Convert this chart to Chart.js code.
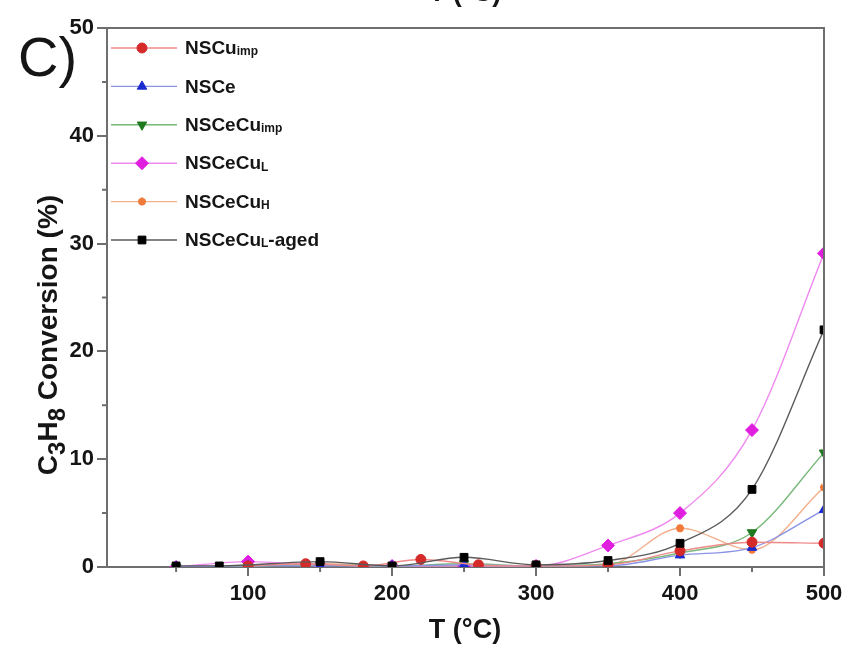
<!DOCTYPE html>
<html>
<head>
<meta charset="utf-8">
<script src="https://cdn.jsdelivr.net/npm/chart.js@4.4.1/dist/chart.umd.min.js"></script>
<style>
  html, body { margin: 0; background: #fff; }
</style>
</head>
<body>
<canvas id="c" width="852" height="664"></canvas>
<script>
// temperatures (°C)
const temps = [50, 100, 150, 200, 250, 300, 350, 400, 450, 500];
const tempsCuImp = [100, 140, 180, 220, 260, 300, 350, 400, 450, 500];
const tempsAged = [50, 80, 150, 200, 250, 300, 350, 400, 450, 500];

// C3H8 conversion (%)
const nsCuImp = [0.1, 0.3, 0.1, 0.7, 0.2, 0.1, 0.2, 1.5, 2.3, 2.2];
const nsCe = [0, 0.1, 0.1, 0.1, 0.2, 0.1, 0.1, 1.1, 1.8, 5.3];
const nsCeCuImp = [0, 0.1, 0.2, 0.1, 0.3, 0.1, 0.3, 1.3, 3.2, 10.6];
const nsCeCuL = [0, 0.5, 0.2, 0.1, 0.1, 0.1, 2.0, 5.0, 12.7, 29.1];
const nsCeCuH = [0, 0.1, 0.3, 0.1, 0.1, 0.1, 0.2, 3.6, 1.6, 7.4];
const nsCeCuLAged = [0.1, 0.1, 0.5, 0.1, 0.9, 0.2, 0.6, 2.2, 7.2, 22.0];

// legend names: [main, subscript, suffix]
const seriesNames = [
  ['NSCu', 'imp', ''],
  ['NSCe', '', ''],
  ['NSCeCu', 'imp', ''],
  ['NSCeCu', 'L', ''],
  ['NSCeCu', 'H', ''],
  ['NSCeCu', 'L', '-aged'],
];

const xTicks = [100, 200, 300, 400, 500];
const xMinorTicks = [50, 150, 250, 350, 450];
const yMinorTicks = [5, 15, 25, 35, 45];

const AXIS = '#6e6e6e';
const TEXT = '#151515';
const FONT = '"Liberation Sans", Arial, sans-serif';

const pts = (xs, ys) => xs.map((x, i) => ({ x: x, y: ys[i] }));

const makeSet = (label, data, marker, line, style, extra) => Object.assign({
  label: label,
  data: data,
  borderColor: line,
  backgroundColor: marker,
  pointBackgroundColor: marker,
  pointBorderColor: marker,
  pointStyle: style,
  pointRadius: 5,
  pointBorderWidth: 1,
  borderWidth: 1.4,
  cubicInterpolationMode: 'monotone',
  fill: false,
}, extra || {});

const datasets = [
  makeSet('NSCuimp', pts(tempsCuImp, nsCuImp), '#d42a2a', '#f08a8a', 'circle'),
  makeSet('NSCe', pts(temps, nsCe), '#1a2ad0', '#8a94e6', 'triangle', { pointRadius: 5.5 }),
  makeSet('NSCeCuimp', pts(temps, nsCeCuImp), '#1f7a1f', '#79b879', 'triangle', { pointRotation: 180, pointRadius: 5.5 }),
  makeSet('NSCeCuL', pts(temps, nsCeCuL), '#e01ee0', '#f08af0', 'rectRot', { pointRadius: 6.5 }),
  makeSet('NSCeCuH', pts(temps, nsCeCuH), '#f07a3a', '#f2b08c', 'star', { pointRadius: 4, pointBorderWidth: 2.5 }),
  makeSet('NSCeCuL-aged', pts(tempsAged, nsCeCuLAged), '#000000', '#5a5a5a', 'rect', { pointRadius: 5.5, order: -1 }),
];

const drawMarker = (ctx, ds, x, y) => {
  ctx.save();
  ctx.fillStyle = ds.pointBackgroundColor;
  ctx.strokeStyle = ds.pointBorderColor;
  ctx.lineWidth = ds.pointBorderWidth;
  Chart.helpers.drawPoint(ctx, {
    pointStyle: ds.pointStyle,
    rotation: ds.pointRotation || 0,
    radius: ds.pointRadius,
    borderWidth: ds.pointBorderWidth,
  }, x, y);
  ctx.restore();
};

// text with a smaller, lowered subscript part
const drawSubText = (ctx, parts, x, y, size, subSize, subDrop) => {
  ctx.font = 'bold ' + size + 'px ' + FONT;
  ctx.fillText(parts[0], x, y);
  x += ctx.measureText(parts[0]).width;
  if (parts[1]) {
    ctx.font = 'bold ' + subSize + 'px ' + FONT;
    ctx.fillText(parts[1], x, y + subDrop);
    x += ctx.measureText(parts[1]).width;
  }
  if (parts[2]) {
    ctx.font = 'bold ' + size + 'px ' + FONT;
    ctx.fillText(parts[2], x, y);
  }
};

const decorations = {
  id: 'decorations',
  afterDraw(chart) {
    const ctx = chart.ctx;
    const area = chart.chartArea;
    const xs = chart.scales.x;
    const ys = chart.scales.y;

    // frame top and right
    ctx.save();
    ctx.strokeStyle = AXIS;
    ctx.lineWidth = 2;
    ctx.beginPath();
    ctx.moveTo(area.left, area.top);
    ctx.lineTo(area.right, area.top);
    ctx.lineTo(area.right, area.bottom);
    ctx.stroke();

    // minor ticks
    ctx.beginPath();
    xMinorTicks.forEach((v) => {
      const px = xs.getPixelForValue(v);
      ctx.moveTo(px, area.bottom);
      ctx.lineTo(px, area.bottom + 5);
    });
    yMinorTicks.forEach((v) => {
      const py = ys.getPixelForValue(v);
      ctx.moveTo(area.left, py);
      ctx.lineTo(area.left - 5, py);
    });
    ctx.stroke();

    // legend
    ctx.fillStyle = TEXT;
    ctx.textBaseline = 'middle';
    chart.data.datasets.forEach((ds, i) => {
      const y = 48 + i * 38.4;
      ctx.strokeStyle = ds.borderColor;
      ctx.lineWidth = 1.4;
      ctx.beginPath();
      ctx.moveTo(111, y);
      ctx.lineTo(177, y);
      ctx.stroke();
      drawMarker(ctx, ds, 142, y);
      ctx.fillStyle = TEXT;
      ctx.textAlign = 'left';
      drawSubText(ctx, seriesNames[i], 185, y + 1, 19, 12, 3);
    });

    // panel label
    ctx.font = '56px ' + FONT;
    ctx.textAlign = 'left';
    ctx.textBaseline = 'alphabetic';
    ctx.fillText('C)', 18, 76);

    // axis titles
    ctx.font = 'bold 27px ' + FONT;
    ctx.textAlign = 'center';
    ctx.fillText('T (°C)', 465, 638);
    // title of the panel above, clipped at the top edge
    ctx.fillText('T (°C)', 465, 1);

    ctx.translate(57, 335);
    ctx.rotate(-Math.PI / 2);
    const parts = [['C', false], ['3', true], ['H', false], ['8', true], [' Conversion (%)', false]];
    let total = 0;
    parts.forEach((p) => {
      ctx.font = 'bold ' + (p[1] ? 24 : 28) + 'px ' + FONT;
      total += ctx.measureText(p[0]).width;
    });
    let x = -total / 2;
    ctx.textAlign = 'left';
    parts.forEach((p) => {
      ctx.font = 'bold ' + (p[1] ? 24 : 28) + 'px ' + FONT;
      ctx.fillText(p[0], x, p[1] ? 8 : 0);
      x += ctx.measureText(p[0]).width;
    });
    ctx.restore();
  },
};

new Chart(document.getElementById('c'), {
  type: 'line',
  data: { datasets: datasets },
  plugins: [decorations],
  options: {
    responsive: false,
    animation: false,
    devicePixelRatio: 1,
    layout: { padding: { top: 28, right: 28, left: 0, bottom: 0 } },
    plugins: { legend: { display: false }, tooltip: { enabled: false } },
    scales: {
      x: {
        type: 'linear',
        min: 2,
        max: 500,
        afterBuildTicks: (s) => { s.ticks = xTicks.map((v) => ({ value: v })); },
        afterFit: (s) => { s.height = 97; },
        border: { color: AXIS, width: 2 },
        grid: { drawOnChartArea: false, tickLength: 9, color: AXIS, lineWidth: 2 },
        ticks: { color: TEXT, padding: 5, maxRotation: 0, font: { family: FONT, size: 22, weight: 'bold' } },
      },
      y: {
        min: 0,
        max: 50,
        ticks: { stepSize: 10, color: TEXT, padding: 3, font: { family: FONT, size: 22, weight: 'bold' } },
        afterFit: (s) => { s.width = 107; },
        border: { color: AXIS, width: 2 },
        grid: { drawOnChartArea: false, tickLength: 10, color: AXIS, lineWidth: 2 },
      },
    },
  },
});
</script>
</body>
</html>
